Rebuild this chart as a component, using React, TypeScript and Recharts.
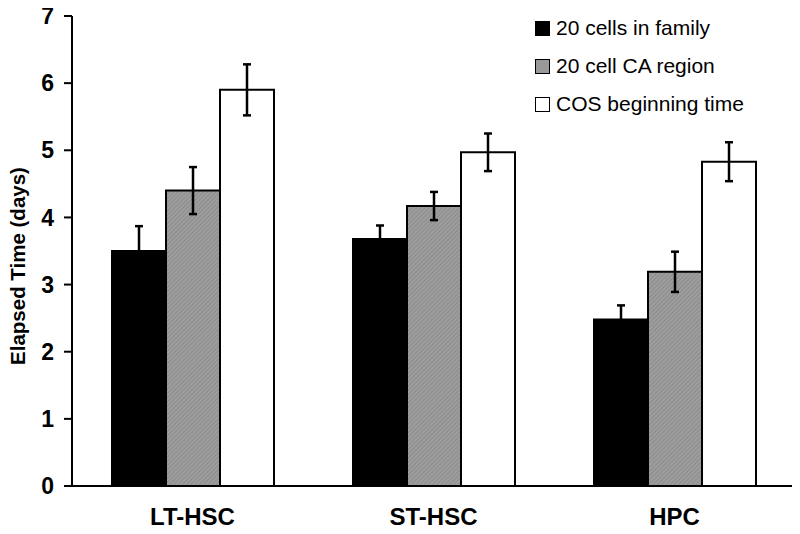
import React from 'react';
import { BarChart, Bar, XAxis, YAxis, ErrorBar } from 'recharts';

const categories = ['LT-HSC', 'ST-HSC', 'HPC'];
const familyValues = [3.5, 3.68, 2.48];
const familyErrors = [0.37, 0.2, 0.21];
const caValues = [4.4, 4.17, 3.19];
const caErrors = [0.35, 0.21, 0.3];
const cosValues = [5.9, 4.97, 4.83];
const cosErrors = [0.38, 0.28, 0.29];
const seriesNames = ['20 cells in family', '20 cell CA region', 'COS beginning time'];
const seriesFills = ['#000000', 'url(#hatch)', '#ffffff'];
const legendFills = ['#000000', '#999999', '#ffffff'];
const yTicks = [0, 1, 2, 3, 4, 5, 6, 7];
const boundaryTicks = [0, 1, 2, 3];

const data = categories.map((c, i) => ({
  category: c,
  pos: i + 0.5,
  family: familyValues[i],
  familyErr: familyErrors[i],
  ca: caValues[i],
  caErr: caErrors[i],
  cos: cosValues[i],
  cosErr: cosErrors[i],
}));

const FONT = 'Arial, "Liberation Sans", Helvetica, sans-serif';

const LegendBox = () => (
  <div style={{ position: 'absolute', left: 535, top: 9, fontFamily: FONT }}>
    {seriesNames.map((n, i) => (
      <div key={n} style={{ display: 'flex', alignItems: 'center', height: 38 }}>
        <div
          style={{
            width: 13,
            height: 13,
            background: legendFills[i],
            border: '1.5px solid #000',
            marginRight: 6,
          }}
        />
        <span style={{ fontSize: 21, color: '#000', lineHeight: '38px' }}>{n}</span>
      </div>
    ))}
  </div>
);

const YLabel = (props: any) => {
  const vb = props.viewBox || {};
  const cx = (vb.x ?? 0) + 5;
  const cy = (vb.y ?? 0) + (vb.height ?? 0) / 2 + 15;
  return (
    <text
      x={cx}
      y={cy}
      transform={`rotate(-90, ${cx}, ${cy})`}
      textAnchor="middle"
      dominantBaseline="central"
      style={{ fontFamily: FONT, fontSize: 20.5, fontWeight: 'bold', fill: '#000' }}
    >
      Elapsed Time (days)
    </text>
  );
};

export default function App() {
  return (
    <div style={{ position: 'relative', margin: '-8px 0 0 -8px', width: 800, height: 534, background: '#fff' }}>
      <BarChart
        width={800}
        height={534}
        data={data}
        margin={{ top: 16, right: 5, bottom: 0, left: 12 }}
        barCategoryGap="16.6%"
        barGap={0}
      >
        <defs>
          <pattern id="hatch" patternUnits="userSpaceOnUse" width="3" height="3" patternTransform="rotate(45)">
            <rect width="3" height="3" fill="#9d9d9d" />
            <rect width="1" height="3" fill="#8c8c8c" />
          </pattern>
        </defs>
        <XAxis
          xAxisId="bound"
          dataKey="pos"
          type="number"
          domain={[0, 3]}
          allowDataOverflow
          ticks={boundaryTicks}
          tick={false}
          tickSize={8}
          height={10}
          axisLine={{ stroke: '#000', strokeWidth: 2 }}
          tickLine={{ stroke: '#000', strokeWidth: 2 }}
        />
        <XAxis
          xAxisId="cat"
          dataKey="category"
          height={38}
          axisLine={false}
          tickLine={false}
          tickSize={0}
          tickMargin={12}
          tick={{ fontFamily: FONT, fontSize: 24, fontWeight: 'bold', fill: '#000' }}
        />
        <YAxis
          domain={[0, 7]}
          ticks={yTicks}
          interval={0}
          width={60}
          tickSize={8}
          tickMargin={10}
          axisLine={{ stroke: '#000', strokeWidth: 2 }}
          tickLine={{ stroke: '#000', strokeWidth: 2 }}
          tick={{ fontFamily: FONT, fontSize: 23, fontWeight: 'bold', fill: '#000' }}
          label={<YLabel />}
        />
        <Bar xAxisId="cat" dataKey="family" name={seriesNames[0]} fill={seriesFills[0]} stroke="#000" strokeWidth={2} isAnimationActive={false}>
          <ErrorBar dataKey="familyErr" width={4} stroke="#000" strokeWidth={2.5} direction="y" />
        </Bar>
        <Bar xAxisId="cat" dataKey="ca" name={seriesNames[1]} fill={seriesFills[1]} stroke="#000" strokeWidth={2} isAnimationActive={false}>
          <ErrorBar dataKey="caErr" width={4} stroke="#000" strokeWidth={2.5} direction="y" />
        </Bar>
        <Bar xAxisId="cat" dataKey="cos" name={seriesNames[2]} fill={seriesFills[2]} stroke="#000" strokeWidth={2} isAnimationActive={false}>
          <ErrorBar dataKey="cosErr" width={4} stroke="#000" strokeWidth={2.5} direction="y" />
        </Bar>
      </BarChart>
      <LegendBox />
    </div>
  );
}
